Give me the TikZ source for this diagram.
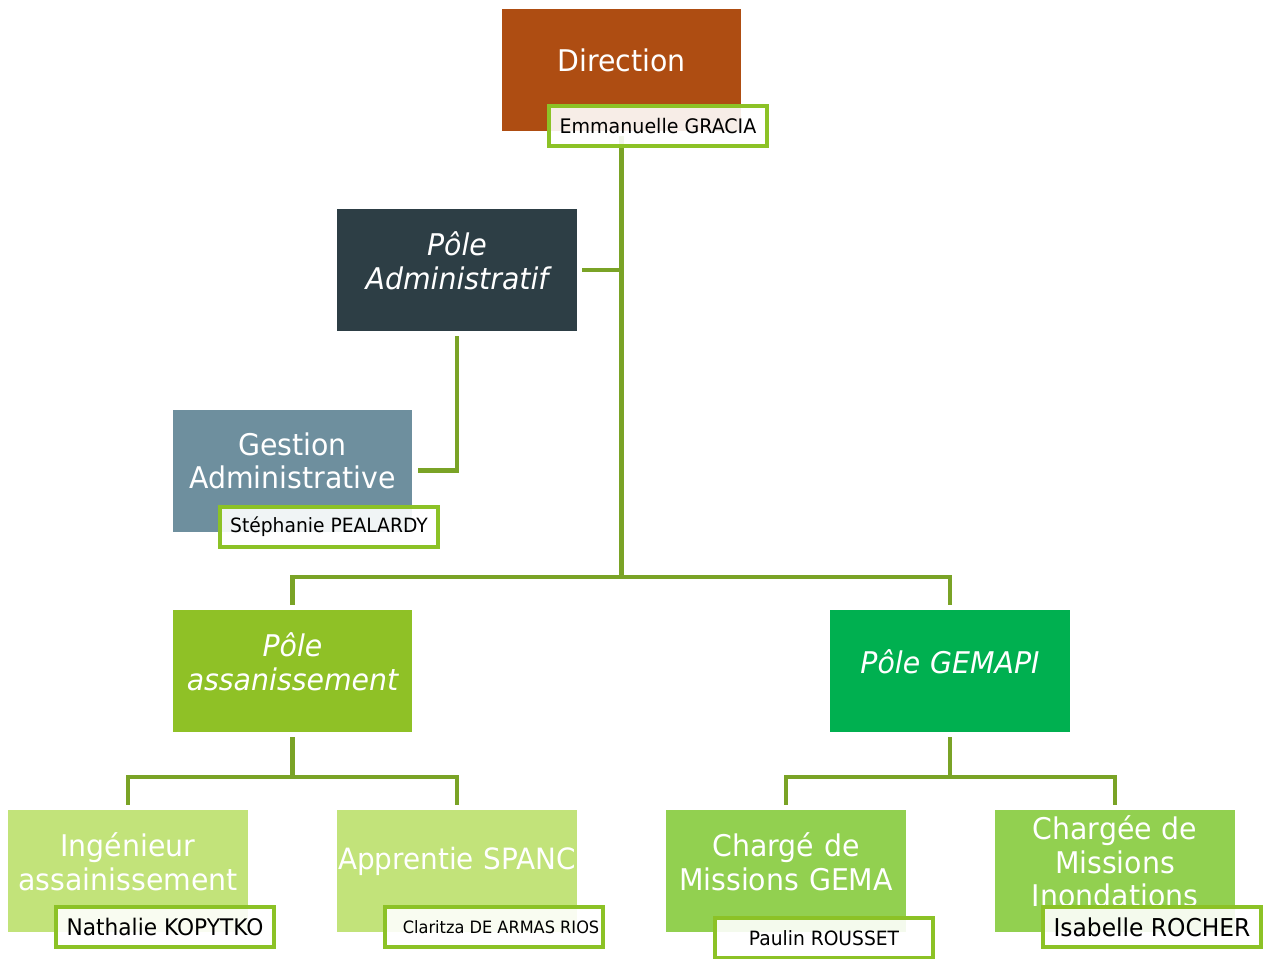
\documentclass[tikz,border=0pt]{standalone}
\usepackage{fontspec}
\setmainfont{DejaVu Sans}[FakeStretch=0.95]
\usepackage{xcolor}
\usepackage{tikz}
\definecolor{dirbrown}{RGB}{174,77,18}
\definecolor{admslate}{RGB}{45,62,69}
\definecolor{gestblue}{RGB}{110,143,158}
\definecolor{assgreen}{RGB}{143,193,38}
\definecolor{gemgreen}{RGB}{0,176,80}
\definecolor{palegreen}{RGB}{194,227,122}
\definecolor{midgreen}{RGB}{146,208,80}
\definecolor{namegreen}{RGB}{140,194,38}
\definecolor{linkgreen}{RGB}{122,163,38}

\begin{document}
\begin{tikzpicture}[
    x=0.02cm, y=-0.02cm,
    box/.style={minimum width=4.8cm, minimum height=2.44cm, inner sep=0pt, text width=4.8cm, align=center, text=white, font=\fontsize{17}{19.3}\selectfont, execute at end node={\endgraf\vspace{11pt}}},
    pole/.style={box, font=\fontsize{17}{19.3}\selectfont\itshape},
    person/.style={draw=namegreen, line width=2.2pt, fill=white, fill opacity=0.9, text opacity=1, minimum width=4.36cm, minimum height=0.8cm, inner sep=0pt},
    link/.style={draw=linkgreen, line width=2.3pt, shorten <=2.8pt, shorten >=2.8pt}
]
    \useasboundingbox (0,0) rectangle (1265,958);

    % Boxes
    \node[box, fill=dirbrown] (dir) at (621.5,70) {Direction};
    \node[pole, fill=admslate] (padm) at (457,270) {Pôle\\Administratif};
    \node[box, fill=gestblue] (gest) at (292.5,470.5) {Gestion\\Administrative};
    \node[pole, fill=assgreen] (pass) at (292.5,671) {Pôle\\assanissement};
    \node[pole, fill=gemgreen] (pgem) at (950,671) {Pôle GEMAPI};
    \node[box, fill=palegreen] (ing) at (128,871) {Ingénieur\\assainissement};
    \node[box, fill=palegreen, font=\fontsize{16.7}{19.3}\selectfont] (app) at (457,871) {\mbox{Apprentie SPANC}};
    \node[box, fill=midgreen] (chge) at (786,871) {Chargé de\\Missions GEMA};
    \node[box, fill=midgreen] (chgi) at (1115,871) {Chargée de\\Missions\\Inondations};

    % Connectors
    \coordinate (jtop) at (621.5,577);
    \coordinate (jass) at (292.5,777);
    \coordinate (jgem) at (950,777);
    \draw[link, shorten >=0pt] (dir.south) -- (jtop);
    \draw[link, shorten >=0pt] (padm.east) -- (padm.east -| jtop);
    \draw[link] (padm.south) |- (gest.east);
    \draw[link, shorten <=0pt] (jtop) -| (pass.north);
    \draw[link, shorten <=0pt] (jtop) -| (pgem.north);
    \draw[link, shorten >=0pt] (pass.south) -- (jass);
    \draw[link, shorten <=0pt] (jass) -| (ing.north);
    \draw[link, shorten <=0pt] (jass) -| (app.north);
    \draw[link, shorten >=0pt] (pgem.south) -- (jgem);
    \draw[link, shorten <=0pt] (jgem) -| (chge.north);
    \draw[link, shorten <=0pt] (jgem) -| (chgi.north);

    % Names
    \node[person, font=\fontsize{11.4}{13}\selectfont] (gracia) at (658,126) {Emmanuelle GRACIA};
    \node[person, font=\fontsize{11.2}{13}\selectfont] (pealardy) at (329,527) {Stéphanie PEALARDY};
    \node[person, font=\fontsize{13}{15}\selectfont] (kopytko) at (165,927) {Nathalie KOPYTKO};
    \node[person, font=\fontsize{9.7}{12}\selectfont] (armas) at (494,927) {\hspace{8pt}Claritza DE ARMAS RIOS};
    \node[person, font=\fontsize{11.2}{13}\selectfont] (rousset) at (824,938) {Paulin ROUSSET};
    \node[person, font=\fontsize{14}{16}\selectfont] (rocher) at (1152,927) {Isabelle ROCHER};
\end{tikzpicture}
\end{document}
